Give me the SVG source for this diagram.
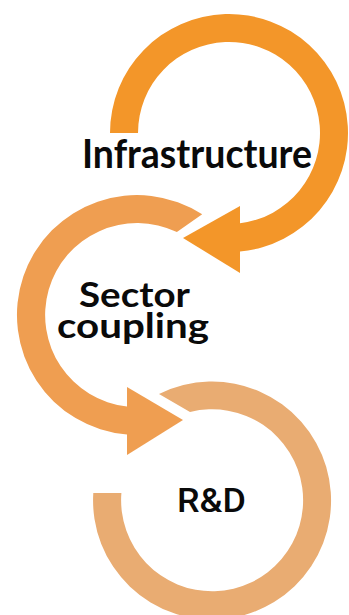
<svg xmlns="http://www.w3.org/2000/svg" width="349" height="615" viewBox="0 0 349 615">
<style>
.lbl{font-family:Lato,"Liberation Sans",Arial,sans-serif;font-weight:700;fill:#0a0a0a;text-anchor:middle}
.rd{font-family:Roboto,"Liberation Sans",Arial,sans-serif;font-weight:500;fill:#0a0a0a;text-anchor:middle}
.c1{fill:#F39629}
.c2{fill:#EF9E51}
.c3{fill:#E9AC72}
</style>
<rect width="349" height="615" fill="#ffffff"/>
<g id="node-infrastructure">
<path class="c1" d="M110,133 A119,119 0 1 1 240,251.5 L240,223.3 A91,91 0 1 0 138,133 Z"/>
<text class="lbl" x="197" y="168" font-size="40" textLength="230" lengthAdjust="spacingAndGlyphs">Infrastructure</text>
</g>
<g id="node-sector-coupling">
<path class="c2" d="M202.2,214.3 A120,120 0 1 0 127,434.6 L127,406.5 A92,92 0 1 1 176.9,232.1 Z"/>
<text class="lbl" x="134.5" y="307" font-size="34" textLength="111" lengthAdjust="spacingAndGlyphs">Sector</text>
<text class="lbl" x="133" y="338" font-size="34" textLength="152" lengthAdjust="spacingAndGlyphs">coupling</text>
</g>
<g id="node-rd">
<path class="c3" d="M159,394 A119,119 0 1 1 93.3,493 L121.4,493 A91,91 0 1 0 190,412 Z"/>
<text class="rd" x="211.5" y="512" font-size="33" textLength="69" lengthAdjust="spacingAndGlyphs">R&amp;D</text>
</g>
<g id="connectors">
<polygon class="c1" points="240,206 240,273 183,238"/>
<polygon class="c2" points="127,387 127,455 183,420"/>
</g>
</svg>
